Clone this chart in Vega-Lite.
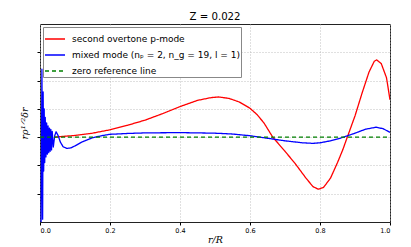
{
  "$schema": "https://vega.github.io/schema/vega-lite/v6.json",
  "autosize": "none",
  "width": 350,
  "height": 198,
  "padding": {"left": 40, "top": 24, "right": 21, "bottom": 25},
  "title": {"text": "Z = 0.022", "fontSize": 10.2, "fontWeight": "normal", "font": "DejaVu Sans", "offset": 2, "color": "#000"},
  "config": {
    "font": "DejaVu Sans",
    "view": {"stroke": "#222", "strokeWidth": 1}
  },
  "data": {"values": [
    {"s": "second overtone p-mode", "r": 0.04, "v": 0.0},
    {"s": "second overtone p-mode", "r": 0.06, "v": 0.02},
    {"s": "second overtone p-mode", "r": 0.1, "v": 0.06},
    {"s": "second overtone p-mode", "r": 0.15, "v": 0.14},
    {"s": "second overtone p-mode", "r": 0.2, "v": 0.26},
    {"s": "second overtone p-mode", "r": 0.25, "v": 0.42},
    {"s": "second overtone p-mode", "r": 0.3, "v": 0.6},
    {"s": "second overtone p-mode", "r": 0.35, "v": 0.83},
    {"s": "second overtone p-mode", "r": 0.4, "v": 1.08},
    {"s": "second overtone p-mode", "r": 0.45, "v": 1.3},
    {"s": "second overtone p-mode", "r": 0.49, "v": 1.4},
    {"s": "second overtone p-mode", "r": 0.51, "v": 1.42},
    {"s": "second overtone p-mode", "r": 0.54, "v": 1.37},
    {"s": "second overtone p-mode", "r": 0.57, "v": 1.24},
    {"s": "second overtone p-mode", "r": 0.6, "v": 1.02},
    {"s": "second overtone p-mode", "r": 0.62, "v": 0.8},
    {"s": "second overtone p-mode", "r": 0.64, "v": 0.5},
    {"s": "second overtone p-mode", "r": 0.665, "v": 0.0},
    {"s": "second overtone p-mode", "r": 0.7, "v": -0.5},
    {"s": "second overtone p-mode", "r": 0.73, "v": -0.95},
    {"s": "second overtone p-mode", "r": 0.76, "v": -1.45},
    {"s": "second overtone p-mode", "r": 0.78, "v": -1.75},
    {"s": "second overtone p-mode", "r": 0.795, "v": -1.84},
    {"s": "second overtone p-mode", "r": 0.81, "v": -1.78},
    {"s": "second overtone p-mode", "r": 0.83, "v": -1.45},
    {"s": "second overtone p-mode", "r": 0.85, "v": -0.9},
    {"s": "second overtone p-mode", "r": 0.865, "v": -0.45},
    {"s": "second overtone p-mode", "r": 0.878, "v": 0.0},
    {"s": "second overtone p-mode", "r": 0.9, "v": 0.75},
    {"s": "second overtone p-mode", "r": 0.92, "v": 1.55},
    {"s": "second overtone p-mode", "r": 0.94, "v": 2.3},
    {"s": "second overtone p-mode", "r": 0.955, "v": 2.68},
    {"s": "second overtone p-mode", "r": 0.962, "v": 2.73},
    {"s": "second overtone p-mode", "r": 0.975, "v": 2.6},
    {"s": "second overtone p-mode", "r": 0.99, "v": 2.1},
    {"s": "second overtone p-mode", "r": 1.0, "v": 1.32},

    {"s": "mixed mode (nₚ = 2, n_g = 19, l = 1)", "r": 0.003, "v": -3.2},
    {"s": "mixed mode (nₚ = 2, n_g = 19, l = 1)", "r": 0.0055, "v": 2.4},
    {"s": "mixed mode (nₚ = 2, n_g = 19, l = 1)", "r": 0.0075, "v": -2.9},
    {"s": "mixed mode (nₚ = 2, n_g = 19, l = 1)", "r": 0.009, "v": 1.6},
    {"s": "mixed mode (nₚ = 2, n_g = 19, l = 1)", "r": 0.0105, "v": -1.2},
    {"s": "mixed mode (nₚ = 2, n_g = 19, l = 1)", "r": 0.012, "v": 1.0},
    {"s": "mixed mode (nₚ = 2, n_g = 19, l = 1)", "r": 0.0135, "v": -0.9},
    {"s": "mixed mode (nₚ = 2, n_g = 19, l = 1)", "r": 0.015, "v": 0.7},
    {"s": "mixed mode (nₚ = 2, n_g = 19, l = 1)", "r": 0.017, "v": -0.7},
    {"s": "mixed mode (nₚ = 2, n_g = 19, l = 1)", "r": 0.019, "v": 0.5},
    {"s": "mixed mode (nₚ = 2, n_g = 19, l = 1)", "r": 0.021, "v": -0.6},
    {"s": "mixed mode (nₚ = 2, n_g = 19, l = 1)", "r": 0.023, "v": 0.4},
    {"s": "mixed mode (nₚ = 2, n_g = 19, l = 1)", "r": 0.025, "v": -0.55},
    {"s": "mixed mode (nₚ = 2, n_g = 19, l = 1)", "r": 0.027, "v": 0.32},
    {"s": "mixed mode (nₚ = 2, n_g = 19, l = 1)", "r": 0.029, "v": -0.5},
    {"s": "mixed mode (nₚ = 2, n_g = 19, l = 1)", "r": 0.031, "v": 0.27},
    {"s": "mixed mode (nₚ = 2, n_g = 19, l = 1)", "r": 0.033, "v": -0.45},
    {"s": "mixed mode (nₚ = 2, n_g = 19, l = 1)", "r": 0.035, "v": 0.2},
    {"s": "mixed mode (nₚ = 2, n_g = 19, l = 1)", "r": 0.038, "v": -0.35},
    {"s": "mixed mode (nₚ = 2, n_g = 19, l = 1)", "r": 0.042, "v": 0.05},
    {"s": "mixed mode (nₚ = 2, n_g = 19, l = 1)", "r": 0.046, "v": 0.19},
    {"s": "mixed mode (nₚ = 2, n_g = 19, l = 1)", "r": 0.052, "v": 0.05},
    {"s": "mixed mode (nₚ = 2, n_g = 19, l = 1)", "r": 0.058, "v": -0.17},
    {"s": "mixed mode (nₚ = 2, n_g = 19, l = 1)", "r": 0.066, "v": -0.34},
    {"s": "mixed mode (nₚ = 2, n_g = 19, l = 1)", "r": 0.077, "v": -0.4},
    {"s": "mixed mode (nₚ = 2, n_g = 19, l = 1)", "r": 0.088, "v": -0.38},
    {"s": "mixed mode (nₚ = 2, n_g = 19, l = 1)", "r": 0.1, "v": -0.31},
    {"s": "mixed mode (nₚ = 2, n_g = 19, l = 1)", "r": 0.12, "v": -0.17},
    {"s": "mixed mode (nₚ = 2, n_g = 19, l = 1)", "r": 0.15, "v": -0.02},
    {"s": "mixed mode (nₚ = 2, n_g = 19, l = 1)", "r": 0.18, "v": 0.06},
    {"s": "mixed mode (nₚ = 2, n_g = 19, l = 1)", "r": 0.2, "v": 0.1},
    {"s": "mixed mode (nₚ = 2, n_g = 19, l = 1)", "r": 0.25, "v": 0.13},
    {"s": "mixed mode (nₚ = 2, n_g = 19, l = 1)", "r": 0.3, "v": 0.15},
    {"s": "mixed mode (nₚ = 2, n_g = 19, l = 1)", "r": 0.4, "v": 0.16},
    {"s": "mixed mode (nₚ = 2, n_g = 19, l = 1)", "r": 0.5, "v": 0.14},
    {"s": "mixed mode (nₚ = 2, n_g = 19, l = 1)", "r": 0.55, "v": 0.11},
    {"s": "mixed mode (nₚ = 2, n_g = 19, l = 1)", "r": 0.6, "v": 0.05},
    {"s": "mixed mode (nₚ = 2, n_g = 19, l = 1)", "r": 0.65, "v": -0.04},
    {"s": "mixed mode (nₚ = 2, n_g = 19, l = 1)", "r": 0.7, "v": -0.13},
    {"s": "mixed mode (nₚ = 2, n_g = 19, l = 1)", "r": 0.75, "v": -0.2},
    {"s": "mixed mode (nₚ = 2, n_g = 19, l = 1)", "r": 0.78, "v": -0.22},
    {"s": "mixed mode (nₚ = 2, n_g = 19, l = 1)", "r": 0.8, "v": -0.2},
    {"s": "mixed mode (nₚ = 2, n_g = 19, l = 1)", "r": 0.83, "v": -0.13},
    {"s": "mixed mode (nₚ = 2, n_g = 19, l = 1)", "r": 0.86, "v": -0.03},
    {"s": "mixed mode (nₚ = 2, n_g = 19, l = 1)", "r": 0.9, "v": 0.14},
    {"s": "mixed mode (nₚ = 2, n_g = 19, l = 1)", "r": 0.93, "v": 0.28},
    {"s": "mixed mode (nₚ = 2, n_g = 19, l = 1)", "r": 0.96, "v": 0.35},
    {"s": "mixed mode (nₚ = 2, n_g = 19, l = 1)", "r": 0.98, "v": 0.3},
    {"s": "mixed mode (nₚ = 2, n_g = 19, l = 1)", "r": 1.0, "v": 0.17},

    {"s": "zero reference line", "r": 0.0, "v": 0.0},
    {"s": "zero reference line", "r": 1.0, "v": 0.0}
  ]},
  "mark": {"type": "line", "clip": true, "strokeWidth": 1.3, "strokeJoin": "round"},
  "encoding": {
    "x": {
      "field": "r", "type": "quantitative",
      "scale": {"domain": [0, 1], "nice": false, "zero": false},
      "axis": {
        "values": [0, 0.2, 0.4, 0.6, 0.8, 1.0], "format": ".1f",
        "title": "r/R", "titleFont": "DejaVu Serif", "titleFontStyle": "italic", "titleFontWeight": "normal", "titleFontSize": 9.5, "titlePadding": 1,
        "labelFontSize": 6.5, "labelColor": "#000", "labelPadding": 2,
        "domain": false, "ticks": true, "tickSize": 3, "tickColor": "#000",
        "grid": true, "gridColor": "#b0b0b0", "gridDash": [1, 2], "gridWidth": 0.8
      }
    },
    "y": {
      "field": "v", "type": "quantitative",
      "scale": {"domain": [-3, 4], "nice": false, "zero": false},
      "axis": {
        "values": [-2, -1, 0, 1, 2, 3], "labels": false,
        "title": "rρ¹ᐟ²δr", "titleFont": "DejaVu Serif", "titleFontStyle": "italic", "titleFontWeight": "normal", "titleFontSize": 9.5, "titlePadding": 7,
        "domain": false, "ticks": true, "tickSize": 3, "tickColor": "#000",
        "grid": true, "gridColor": "#b0b0b0", "gridDash": [1, 2], "gridWidth": 0.8
      }
    },
    "color": {
      "field": "s", "type": "nominal",
      "scale": {
        "domain": ["second overtone p-mode", "mixed mode (nₚ = 2, n_g = 19, l = 1)", "zero reference line"],
        "range": ["#ff0000", "#0000ff", "#008000"]
      },
      "legend": {
        "title": null, "orient": "top-left", "offset": 3,
        "symbolType": "stroke", "symbolSize": 400, "symbolStrokeWidth": 1.5,
        "labelFontSize": 9, "labelColor": "#000", "labelOffset": 6,
        "strokeColor": "#888", "fillColor": "#fff", "padding": 1, "rowPadding": -5.5,
        "labelLimit": 300
      }
    },
    "strokeDash": {
      "field": "s", "type": "nominal",
      "scale": {
        "domain": ["second overtone p-mode", "mixed mode (nₚ = 2, n_g = 19, l = 1)", "zero reference line"],
        "range": [[1, 0], [1, 0], [4, 3]]
      },
      "legend": null
    }
  }
}
